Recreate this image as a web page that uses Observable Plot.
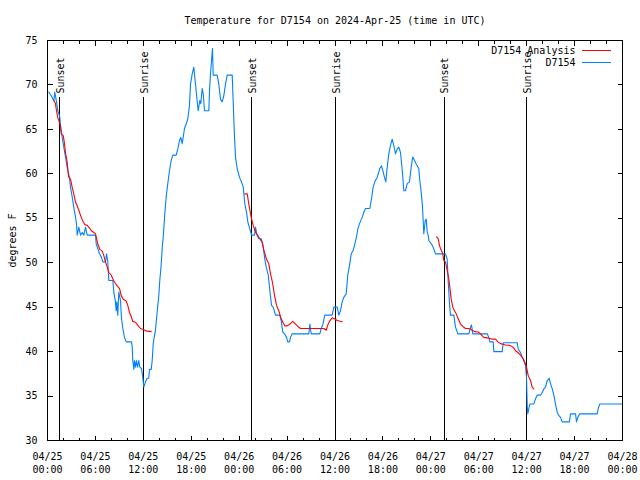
<!DOCTYPE html>
<html><head><meta charset="utf-8">
<script src="https://cdn.jsdelivr.net/npm/d3@7"></script>
<script src="https://cdn.jsdelivr.net/npm/@observablehq/plot@0.6"></script>
<style>body{margin:0;background:#fff}svg{display:block}</style>
</head><body><div id="chart"></div>
<script>
const titleText = "Temperature for D7154 on 2024-Apr-25 (time in UTC)";
const yLabel = "degrees F";
const seriesNames = ["D7154 Analysis", "D7154"];
const seriesColors = ["#ff0000", "#0080ff"];
const startUTC = Date.UTC(2024, 3, 25);
const endHours = 72;
const yTicks = [30, 35, 40, 45, 50, 55, 60, 65, 70, 75];
const majorTickHours = d3.range(0, 73, 6);
const minorTickHours = d3.range(0, 73, 2).filter(h => h % 6 !== 0);
const sunsetHours = [1.54, 25.57, 49.65];
const sunriseHours = [12.05, 36.05, 59.98];

// observed D7154 (hours after 04/25 00:00 UTC, deg F)
const obsHours = [0.16,0.38,0.59,0.79,0.91,1.13,1.29,1.54,1.63,1.84,2.04,2.25,2.47,2.75,2.88,3.09,3.29,3.51,3.63,3.72,3.92,4.13,4.35,4.55,4.76,4.97,6.01,6.10,6.30,6.51,6.76,6.92,7.26,7.39,7.55,7.68,8.18,8.30,8.51,8.60,8.68,8.80,8.93,9.14,9.27,9.43,9.64,9.85,10.52,10.61,10.68,10.81,10.89,11.02,11.14,11.27,11.43,11.56,11.77,11.93,12.06,12.27,12.48,12.68,12.77,12.99,13.11,13.24,13.36,13.52,13.65,13.77,13.94,14.06,14.19,14.28,14.36,14.49,14.69,14.86,15.06,15.28,15.49,15.69,16.12,16.32,16.53,16.69,16.87,16.99,17.15,17.37,17.57,17.78,17.91,18.12,18.32,18.53,18.75,18.87,19.07,19.20,19.37,19.50,19.66,20.20,20.29,20.41,20.54,20.66,20.75,21.25,21.45,21.66,21.88,22.08,22.29,22.50,23.13,23.25,23.42,23.54,23.75,24.04,24.29,24.51,24.71,24.92,25.08,25.33,25.55,25.92,26.05,26.23,26.46,26.76,26.96,27.21,27.39,27.64,27.84,28.05,28.26,28.55,29.09,29.26,29.46,29.68,29.93,30.09,30.30,30.43,30.64,32.72,32.85,33.02,34.10,34.27,34.47,34.72,35.65,35.85,36.28,36.48,36.69,36.90,37.10,37.40,37.60,37.82,38.03,38.28,38.48,38.69,38.86,39.07,39.41,39.61,39.82,40.36,40.57,40.78,40.98,41.28,41.61,41.82,42.04,42.20,42.36,42.54,42.74,42.95,43.16,43.36,43.58,43.79,43.99,44.20,44.42,44.62,44.83,45.04,45.33,45.54,45.74,45.96,46.17,46.49,46.62,46.80,46.96,47.12,47.30,47.42,47.55,47.67,47.75,48.08,48.29,48.58,49.83,50.05,50.18,50.34,50.46,50.88,51.09,51.38,52.76,52.97,53.09,53.26,55.06,55.26,55.39,55.81,55.89,56.94,57.06,58.82,58.94,59.23,59.44,59.64,59.86,59.98,60.07,60.14,60.27,60.39,60.89,61.11,61.32,61.73,61.95,62.15,62.36,62.57,62.82,62.99,63.20,63.40,63.61,63.82,64.03,64.24,64.45,65.36,65.49,66.12,66.24,66.40,66.65,68.83,68.96,69.16,71.91];
const obsTemps = [69.2,68.9,68.6,68.2,69.2,68.1,67.1,66.4,65.5,64.1,63.0,61.9,60.7,59.6,58.5,57.4,56.25,55.1,54.4,53.1,54.0,53.1,53.4,53.1,54.0,53.1,53.1,52.1,51.6,51.0,50.6,50.1,50.1,51.0,50.1,48.0,48.0,46.7,45.6,44.6,45.6,44.1,46.7,45.75,43.7,42.6,41.6,41.1,41.1,40.5,39.0,38.0,39.0,38.25,39.0,38.25,39.0,38.25,38.1,37.1,36.0,36.6,37.0,37.0,38.0,38.0,39.0,40.9,41.6,42.4,43.7,44.8,46.3,48.0,49.3,50.4,51.6,52.9,55.5,57.4,58.9,60.4,61.5,62.1,62.1,62.8,63.75,64.1,63.4,64.1,65.1,65.6,66.2,67.7,70.1,71.25,72.0,70.1,68.1,67.1,68.25,67.9,69.6,69.0,67.1,67.1,69.4,71.25,72.75,74.1,71.1,71.1,70.1,68.4,68.1,68.8,70.1,71.1,71.1,68.1,64.1,61.9,60.6,59.6,59.1,58.5,56.6,55.7,54.6,53.8,53.1,53.1,54.0,53.1,52.7,52.7,52.1,50.4,49.5,48.6,46.9,45.2,45.0,44.1,44.1,43.5,42.2,42.0,41.6,41.1,41.1,41.6,42.0,42.0,43.1,42.0,42.0,42.6,43.0,44.1,44.1,45.0,45.0,44.1,44.6,45.6,46.1,46.5,48.6,49.7,51.0,51.4,52.1,52.9,53.8,54.4,55.1,55.7,56.1,56.1,57.2,58.5,59.1,59.6,60.6,60.9,60.2,59.6,59.1,60.75,62.25,63.2,63.9,63.2,62.25,62.8,63.0,62.4,60.4,58.1,58.1,58.9,59.1,60.75,61.9,61.5,61.1,60.6,59.25,57.9,56.25,53.25,54.75,54.9,53.4,53.1,52.5,52.1,51.75,51.0,51.0,50.4,47.8,45.4,44.1,44.1,42.75,42.0,42.0,42.75,43.0,42.0,42.0,41.6,41.1,41.1,40.0,40.0,41.0,41.0,40.3,39.9,39.4,39.0,38.4,37.1,33.9,33.0,33.6,34.1,34.1,34.7,35.1,35.1,35.4,35.8,36.0,36.75,37.0,36.4,35.8,35.1,34.1,33.2,32.8,32.6,32.1,32.1,33.0,33.0,32.1,32.6,33.0,33.0,33.6,34.1,34.1];

// D7154 analysis, three night-time runs
const anaHours1 = [0.79,1.0,1.09,1.29,1.50,1.63,1.72,1.97,2.13,2.25,2.47,2.59,2.67,2.88,3.09,3.29,3.51,3.72,3.92,4.22,4.47,4.67,4.97,5.17,5.51,5.80,6.01,6.10,6.30,6.55,6.85,7.05,7.26,7.48,7.68,7.98,8.18,8.39,8.73,9.02,9.23,9.48,9.85,10.05,10.27,10.48,10.68,11.02,11.36,11.65,12.06,12.48,12.99];
const anaTemps1 = [68.25,67.9,67.3,66.3,65.8,65.25,64.5,64.3,63.4,62.4,61.3,60.0,59.6,59.4,58.5,57.75,56.8,56.4,55.9,55.1,54.6,54.3,54.2,54.0,53.6,53.4,53.25,52.9,52.1,51.5,51.3,50.8,50.1,49.5,48.9,48.6,48.2,47.8,47.4,47.1,46.3,45.9,45.7,45.2,44.4,43.95,43.4,43.3,42.9,42.6,42.45,42.3,42.25];
const anaHours2 = [24.71,25.01,25.21,25.51,25.76,26.05,26.33,26.58,26.88,27.09,27.42,27.71,27.92,28.17,28.43,28.68,28.96,29.18,29.46,29.71,30.02,30.34,30.72,31.05,31.39,31.68,34.60,34.90,35.10,35.31,35.65,35.94,36.28,36.90];
const anaTemps2 = [57.75,57.75,56.6,55.1,54.2,53.4,53.1,52.7,52.3,51.4,50.4,49.9,48.75,47.8,46.3,45.2,44.6,43.9,43.3,42.9,42.9,43.1,43.4,43.1,42.8,42.6,42.6,42.4,43.0,43.4,43.8,43.7,43.5,43.35];
const anaHours3 = [48.71,48.92,49.09,49.30,49.50,49.62,49.84,50.05,50.25,50.38,50.55,50.75,50.96,51.18,51.43,51.71,52.05,52.34,52.75,53.18,53.47,53.93,54.22,54.63,55.06,55.69,56.10,56.39,56.72,57.35,57.89,58.31,58.60,58.89,59.23,59.57,59.77,59.98,60.19,60.48,60.69,60.89];
const anaTemps3 = [52.9,52.7,51.9,51.4,51.0,50.25,50.1,49.1,48.2,47.25,45.9,45.0,44.6,44.25,43.7,43.1,42.8,42.6,42.6,42.4,42.25,42.2,42.0,41.6,41.55,41.4,41.4,41.1,40.9,40.75,40.7,40.5,40.1,39.9,39.6,39.2,38.8,38.25,37.3,36.75,36.0,35.8];

const toDate = h => new Date(startUTC + h * 3600e3);
const obs = obsHours.map((h, i) => ({t: toDate(h), v: obsTemps[i]}));
const ana = [[anaHours1, anaTemps1], [anaHours2, anaTemps2], [anaHours3, anaTemps3]]
  .flatMap(([hs, vs], k) => hs.map((h, i) => ({t: toDate(h), v: vs[i], run: k})));
const events = [
  ...sunsetHours.map(h => ({t: toDate(h), label: "Sunset"})),
  ...sunriseHours.map(h => ({t: toDate(h), label: "Sunrise"}))
];
const majorTicks = majorTickHours.map(toDate);
const minorTicks = minorTickHours.map(toDate);

const vtick = len => ({draw(ctx) { ctx.moveTo(0, 0); ctx.lineTo(0, len); }});
const htick = len => ({draw(ctx) { ctx.moveTo(0, 0); ctx.lineTo(len, 0); }});
const fmt = d3.utcFormat("%m/%d\n%H:%M");
const font = {fontFamily: "'DejaVu Sans Mono', monospace", fontSize: 10};
const tickStyle = {fill: "none", stroke: "black", strokeWidth: 1, shapeRendering: "crispEdges"};

const chart = Plot.plot({
  width: 640, height: 480,
  marginLeft: 47, marginRight: 18, marginTop: 40, marginBottom: 40,
  style: {background: "#fff", color: "black", ...font},
  x: {type: "utc", domain: [toDate(0), toDate(endHours)], axis: null, label: null},
  y: {domain: [30, 75], axis: null, label: null},
  marks: [
    Plot.ruleX(events, {x: "t", insetTop: 57, stroke: "black", strokeWidth: 1, shapeRendering: "crispEdges"}),
    Plot.text(events, {x: "t", frameAnchor: "top", dy: 53, text: "label", rotate: -90, textAnchor: "start", lineAnchor: "middle", dx: 1, fill: "black", ...font}),
    Plot.line(obs, {x: "t", y: "v", stroke: seriesColors[1], strokeWidth: 1.1}),
    Plot.line(ana, {x: "t", y: "v", z: "run", stroke: seriesColors[0], strokeWidth: 1.1}),
    Plot.frame({stroke: "black", strokeWidth: 1, shapeRendering: "crispEdges"}),
    Plot.dot(majorTicks, {x: d => d, frameAnchor: "bottom", symbol: vtick(-5), ...tickStyle}),
    Plot.dot(minorTicks, {x: d => d, frameAnchor: "bottom", symbol: vtick(-3), ...tickStyle}),
    Plot.dot(majorTicks, {x: d => d, frameAnchor: "top", symbol: vtick(5), ...tickStyle}),
    Plot.dot(minorTicks, {x: d => d, frameAnchor: "top", symbol: vtick(3), ...tickStyle}),
    Plot.dot(yTicks, {y: d => d, frameAnchor: "left", symbol: htick(5), ...tickStyle}),
    Plot.dot(yTicks, {y: d => d, frameAnchor: "right", symbol: htick(-5), ...tickStyle}),
    Plot.axisX(majorTicks, {tickSize: 0, tickPadding: 10, tickFormat: fmt, lineHeight: 1.3, label: null, fill: "black", ...font}),
    Plot.axisY(yTicks, {tickSize: 0, tickPadding: 10, label: null, fill: "black", ...font}),
    Plot.text([yLabel], {frameAnchor: "left", dx: -35, rotate: -90, textAnchor: "middle", lineAnchor: "middle", fill: "black", ...font}),
    Plot.text([titleText], {frameAnchor: "top", dy: -20, textAnchor: "middle", lineAnchor: "middle", fill: "black", ...font}),
    Plot.text([seriesNames[0]], {frameAnchor: "top-right", dx: -47, dy: 10, textAnchor: "end", lineAnchor: "middle", fill: "black", ...font}),
    Plot.text([seriesNames[1]], {frameAnchor: "top-right", dx: -47, dy: 22, textAnchor: "end", lineAnchor: "middle", fill: "black", ...font}),
    Plot.dot([0], {frameAnchor: "top-right", dx: -41, dy: 10, symbol: htick(29), fill: "none", stroke: seriesColors[0], strokeWidth: 1, shapeRendering: "crispEdges"}),
    Plot.dot([0], {frameAnchor: "top-right", dx: -41, dy: 22, symbol: htick(29), fill: "none", stroke: seriesColors[1], strokeWidth: 1, shapeRendering: "crispEdges"})
  ]
});
document.getElementById("chart").appendChild(chart);
</script>
</body></html>
